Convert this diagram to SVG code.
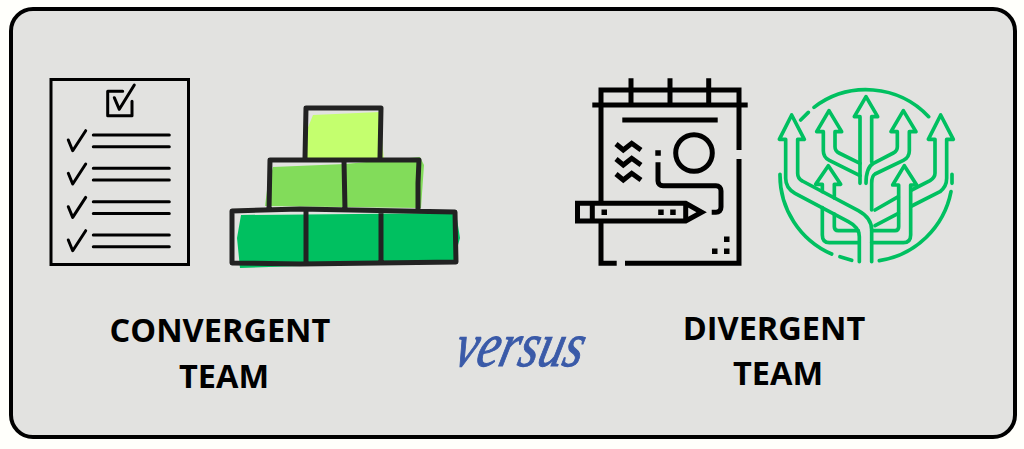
<svg xmlns="http://www.w3.org/2000/svg" width="1024" height="449" viewBox="0 0 1024 449">
<style>
.k{fill:none;stroke:#000;stroke-width:3;stroke-linecap:round;stroke-linejoin:round}
.t{font-family:"Open Sans","Noto Sans",sans-serif;font-weight:700;font-size:32.5px;fill:#000;text-anchor:middle}
.b{fill:none;stroke:#222;stroke-width:5;stroke-linejoin:round;stroke-linecap:round}
.p{fill:none;stroke:#000;stroke-width:5}
.g{fill:none;stroke:#00c060;stroke-width:11;stroke-linecap:round;stroke-linejoin:round}
</style>
<rect width="1024" height="449" fill="#fffffb"/>
<g id="panel"><rect x="11" y="9" width="1004" height="428" rx="22" fill="#e2e2e0" stroke="#000" stroke-width="4"/></g>
<g id="checklist">
<rect x="51" y="79.500" width="137.500" height="185" fill="none" stroke="#000" stroke-width="3"/>
<path class="k" d="M122.700 91.300H107.700V115.700H132V101.300M114.300 97.700L119.300 109.300L134.300 85"/>
<g id="row1"><path class="k" d="M68.300 140L72.700 150.700L85.700 130.700M93.300 135H169.300M93.300 146.700H169.300"/></g>
<g id="row2"><path class="k" d="M68.300 173.300L72.700 184L85.700 164M93.300 168.300H169.300M93.300 180H169.300"/></g>
<g id="row3"><path class="k" d="M68.300 206.700L72.700 217.400L85.700 197.400M93.300 201.700H169.300M93.300 213.400H169.300"/></g>
<g id="row4"><path class="k" d="M68.300 240L72.700 250.700L85.700 230.700M93.300 235H169.300M93.300 246.700H169.300"/></g>
</g>
<g id="blocks">
<path fill="#c4ff6e" d="M313 115L380 112L383 150L384 160H306L307 130Z"/>
<path fill="#82dc5a" d="M273 167L345 164L420 157L424 165L421 208L265 206L267 190Z"/>
<path fill="#00c060" d="M241 215L456 213L460 238L453 263L300 266L240 268L237 238Z"/>
<path class="b" d="M306 108L381 108L380 158M306 108L305 158M270 160L419 160L418 183L418 210M270 160L269 210M344 161L345 210M232 211L300 209L455 212L456 262L300 264L232 263ZM306 212L306 264M381 212L381 263"/>
</g>
<g id="notebook">
<path class="p" d="M601 105V90H739V105M592.300 105H747.700M631 78.300V105M670 78.300V105M708.700 78.300V105M601 105V201.700M601 223V263.300H616.700M625 263.300H739V159M739 105V150M622.300 120H717.700"/>
<circle class="p" cx="694" cy="153" r="18.300"/>
<path class="p" d="M658 162.300V181C658 184 660 185.700 663 185.700H716C719 185.700 721 188 721 191V207C721 210.500 719 212.300 716 212.300H711.700M616 144L623.300 150L631.700 143.300L641 150M616 159L623.300 165L631.700 158.300L641 165M616 174L623.300 180L631.700 173.300L641 180"/>
<path class="p" d="M577.500 203.300H685.700L701.700 212.300L685.700 221H577.500ZM592.300 203.300V221M685.700 203.300V221"/>
<path d="M655.300 150.300h5.500v5.500h-5.500zM601.500 209.500h5.500v5.500h-5.500zM658.200 209.500h5.500v5.500h-5.500zM670.200 209.500h5.500v5.500h-5.500zM724 236.500h5.500v5.500h-5.500zM712 248.500h5.500v5.500h-5.500zM724 248.500h5.500v5.500h-5.500z"/>
</g>
<g id="growth" transform="translate(770 80) scale(.33333)">
<path class="g" d="M132 82A258 258 0 0 1 476 110M92 120L115 97M30 283A258 258 0 0 0 185 522M210 530L245 541M328 542A260 260 0 0 0 543 335M546 283V310"/>
<path class="g" d="M270 110H253L288 50L323 110H305V245M270 110V310"/>
<path class="g" d="M160 155H140L177 92L215 155H195V200Q195 213 207 219L270 250M160 155V212Q160 232 178 241L270 287"/>
<path class="g" d="M382 155H363L400 92L438 155H418V212Q418 232 400 241L315 282Q305 288 305 310V390M382 155V200Q382 213 370 219L310 250Q288 262 288 310"/>
<path class="g" d="M47 178H28L65 105L103 178H83V280Q83 296 97 303L265 392Q305 414 305 450V545M47 178V295Q47 325 75 340L235 425Q268 442 268 470V545"/>
<path class="g" d="M495 178H475L512 105L550 178H530V295Q530 320 510 335L425 378M385 400L315 437M495 178V280Q495 293 480 302L425 330M385 350L315 390"/>
<path class="g" d="M157 313H137L175 257L212 313H193V354M157 313V335M157 383V465Q157 488 178 488H265M193 402V440Q193 452 205 452H265"/>
<path class="g" d="M386 315H368L403 257L440 315H422V465Q422 488 400 488H305M386 315V440Q386 452 375 452H305"/>
</g>
<g id="labels">
<text class="t" x="220" y="342">CONVERGENT</text>
<text class="t" x="224" y="388">TEAM</text>
<text class="t" x="774" y="340">DIVERGENT</text>
<text class="t" x="778" y="385">TEAM</text>
<text transform="translate(516 366) skewX(-14) scale(1 1.3)" x="0" y="0" font-family="'Liberation Serif',serif" font-style="italic" font-size="48" fill="#3a5aa8" stroke="#3a5aa8" stroke-width=".8" text-anchor="middle" textLength="128" lengthAdjust="spacingAndGlyphs">versus</text>
</g>
</svg>
